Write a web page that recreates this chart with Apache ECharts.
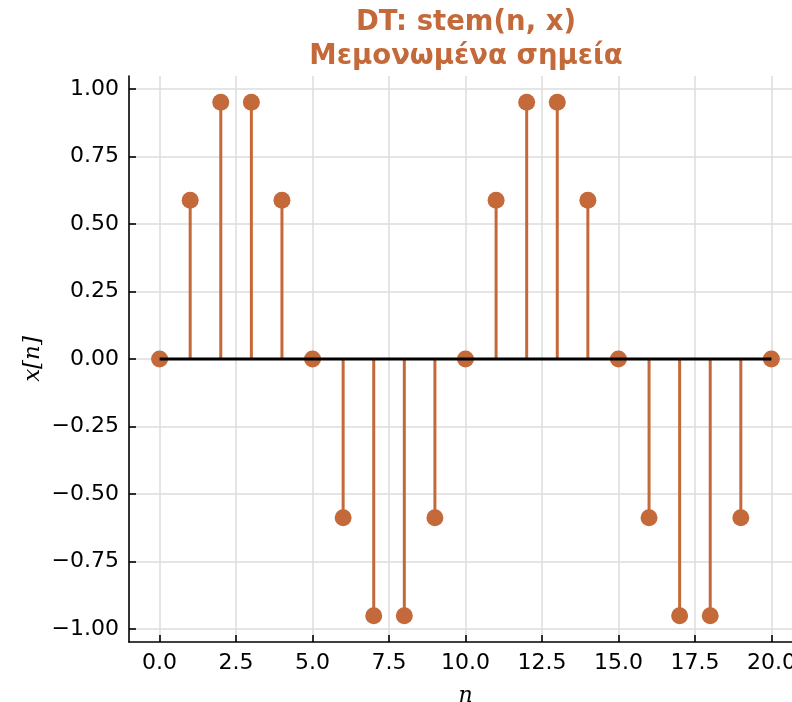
<!DOCTYPE html>
<html>
<head>
<meta charset="utf-8">
<script src="https://cdn.jsdelivr.net/npm/echarts@6/dist/echarts.min.js"></script>
<style>
html,body{margin:0;padding:0;background:#fff;}
#chart{width:792px;height:702px;}
</style>
</head>
<body>
<div id="chart"></div>
<script>
// ---- data ----
const nValues = [0,1,2,3,4,5,6,7,8,9,10,11,12,13,14,15,16,17,18,19,20];
const xValues = [0, 0.588, 0.951, 0.951, 0.588, 0, -0.588, -0.951, -0.951, -0.588,
                 0, 0.588, 0.951, 0.951, 0.588, 0, -0.588, -0.951, -0.951, -0.588, 0];
const xTicks = [0, 2.5, 5, 7.5, 10, 12.5, 15, 17.5, 20];
const yTicks = [-1, -0.75, -0.5, -0.25, 0, 0.25, 0.5, 0.75, 1];
const titleText = 'DT: stem(n, x)\nΜεμονωμένα σημεία';
const xName = 'n';
const yName = 'x[n]';

// ---- style ----
const ORANGE = '#c4693a';
const points = nValues.map((n, i) => [n, xValues[i]]);
const baseline = [[nValues[0], 0], [nValues[nValues.length - 1], 0]];

const fmtMinus = (v, d) => (v < 0 ? '\u2212' : '') + Math.abs(v).toFixed(d);

const chart = echarts.init(document.getElementById('chart'), null, {renderer: 'canvas'});
chart.setOption({
  backgroundColor: '#ffffff',
  animation: false,
  title: {
    text: titleText,
    left: 461,
    top: 1,
    textAlign: 'center',
    textStyle: {
      color: ORANGE,
      fontFamily: 'DejaVu Sans',
      fontWeight: 'bold',
      fontSize: 27.5,
      lineHeight: 34
    }
  },
  grid: {left: 129, top: 76, width: 673, height: 566, containLabel: false, outerBoundsMode: 'none'},
  xAxis: {
    type: 'value',
    min: -1,
    max: 21,
    name: xName,
    nameLocation: 'middle',
    nameGap: 43,
    nameMoveOverlap: false,
    nameTextStyle: {fontFamily: 'DejaVu Serif', fontStyle: 'italic', fontSize: 22, color: '#000'},
    axisLine: {onZero: false, lineStyle: {color: '#000', width: 1.6}},
    axisTick: {show: true, inside: true, length: 7, customValues: xTicks, lineStyle: {color: '#000', width: 1.6}},
    axisLabel: {customValues: xTicks, margin: 10, fontFamily: 'DejaVu Sans', fontSize: 22, color: '#000',
      formatter: v => fmtMinus(v, 1)},
    splitLine: {show: true, lineStyle: {color: '#dcdcdc', width: 1.5}}
  },
  yAxis: {
    type: 'value',
    min: -1.048,
    max: 1.048,
    name: yName,
    nameLocation: 'middle',
    nameRotate: 90,
    nameGap: 84,
    nameMoveOverlap: false,
    nameTextStyle: {fontFamily: 'DejaVu Serif', fontStyle: 'italic', fontSize: 23, color: '#000'},
    axisLine: {onZero: false, lineStyle: {color: '#000', width: 1.6}},
    axisTick: {show: true, inside: true, length: 7, customValues: yTicks, lineStyle: {color: '#000', width: 1.6}},
    axisLabel: {customValues: yTicks, margin: 10, fontFamily: 'DejaVu Sans', fontSize: 22, color: '#000',
      formatter: v => fmtMinus(v, 2)},
    splitLine: {show: true, lineStyle: {color: '#dcdcdc', width: 1.5}}
  },
  series: [
    {
      type: 'custom',
      name: 'stems',
      z: 2,
      data: points,
      renderItem: (params, api) => {
        const p0 = api.coord([api.value(0), 0]);
        const p1 = api.coord([api.value(0), api.value(1)]);
        return {
          type: 'line',
          shape: {x1: p0[0], y1: p0[1], x2: p1[0], y2: p1[1]},
          style: {stroke: ORANGE, lineWidth: 3}
        };
      }
    },
    {
      type: 'scatter',
      name: 'markers',
      z: 3,
      data: points,
      symbol: 'circle',
      symbolSize: 17,
      itemStyle: {color: ORANGE, opacity: 1}
    },
    {
      type: 'line',
      name: 'baseline',
      z: 4,
      data: baseline,
      showSymbol: false,
      symbol: 'none',
      lineStyle: {color: '#000', width: 3},
      silent: true
    }
  ]
});
</script>
</body>
</html>
